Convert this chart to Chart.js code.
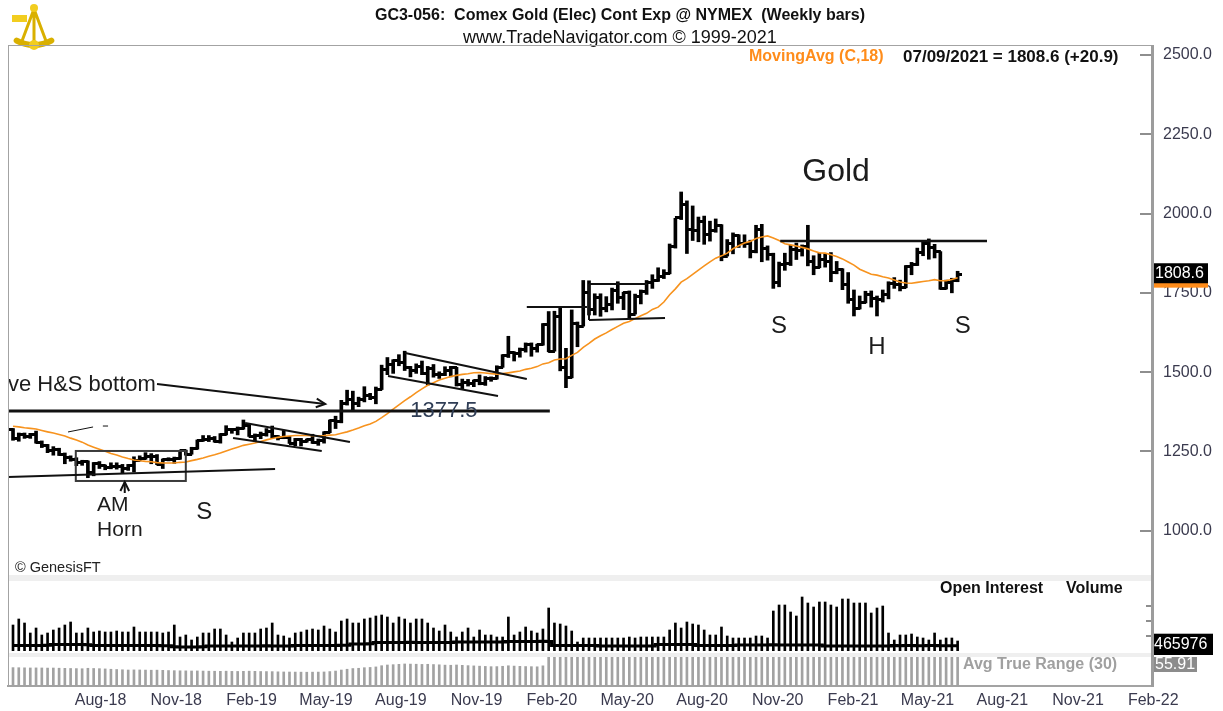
<!DOCTYPE html>
<html lang="en">
<head>
<meta charset="utf-8">
<title>GC3-056 Comex Gold weekly</title>
<script src="https://cdn.jsdelivr.net/npm/chart.js@4.4.1/dist/chart.umd.min.js"></script>
<style>
html,body{margin:0;padding:0;background:#fff;}
#wrap{position:relative;width:1223px;height:711px;overflow:hidden;background:#fff;}
#wrap canvas{position:absolute;left:0;}
.ln{position:absolute;background:#a3a3a3;}
.band{position:absolute;background:#efefef;}
</style>
</head>
<body>
<div id="wrap">
<canvas id="cMain" width="1223" height="600" style="top:0"></canvas>
<canvas id="cVol" width="1223" height="74" style="top:581px"></canvas>
<canvas id="cAtr" width="1223" height="56" style="top:655px"></canvas>
<canvas id="logo" width="52" height="50" style="left:8px;top:3px"></canvas>
<div class="band" style="left:9px;top:575px;width:1142px;height:6px"></div>
<div class="band" style="left:9px;top:653px;width:1142px;height:4px"></div>
<div class="ln" style="left:8px;top:45px;width:1145px;height:1px"></div>
<div class="ln" style="left:8px;top:45px;width:1px;height:642px"></div>
<div class="ln" style="left:1151px;top:45px;width:3px;height:642px;background:#9c9c9c"></div>
</div>
<script>
// ---------------- DATA (weekly bars, first bar = week ending 2018-05-18) ----------------
const firstBarDate = '2018-05-18';
const lastBarDate = '07/09/2021';

const opens = [
1320,1291,1303,1298,1302,1278,1270,1254,1256,1241,
1232,1223,1214,1219,1184,1213,1206,1199,1201,1201,
1196,1207,1222,1229,1235,1233,1210,1223,1223,1226,
1252,1241,1258,1284,1289,1292,1282,1303,1318,1318,
1322,1333,1298,1299,1302,1313,1298,1295,1295,1276,
1288,1281,1287,1277,1284,1311,1346,1344,1400,1413,
1400,1415,1426,1419,1445,1509,1523,1537,1529,1515,
1506,1517,1497,1512,1493,1494,1505,1513,1462,1468,
1463,1473,1465,1481,1481,1515,1552,1562,1560,1571,
1587,1573,1586,1649,1566,1674,1516,1484,1654,1645,
1752,1699,1735,1700,1714,1756,1735,1751,1683,1737,
1753,1781,1790,1801,1810,1897,1986,2028,1949,1947,
1975,1934,1948,1962,1866,1907,1930,1906,1905,1879,
1951,1889,1872,1781,1840,1843,1888,1883,1895,1849,
1830,1856,1850,1814,1824,1777,1729,1700,1720,1745,
1733,1729,1744,1780,1777,1768,1832,1838,1877,1905,
1892,1879,1764,1781,1787.7];

const highs = [
1322,1308,1308,1307,1314,1283,1272,1265,1260,1245,
1236,1230,1222,1220,1215,1218,1207,1214,1214,1209,
1209,1233,1236,1246,1243,1240,1226,1230,1232,1252,
1254,1263,1286,1300,1300,1297,1306,1331,1322,1327,
1349,1335,1305,1311,1322,1330,1300,1316,1297,1291,
1291,1289,1304,1289,1312,1349,1361,1411,1443,1440,
1421,1454,1433,1453,1522,1546,1539,1555,1566,1518,
1526,1535,1518,1524,1501,1517,1518,1515,1478,1477,
1475,1491,1486,1485,1520,1555,1613,1564,1576,1592,
1592,1588,1653,1691,1692,1704,1575,1696,1658,1789,
1788,1747,1747,1738,1765,1785,1752,1756,1746,1759,
1789,1807,1829,1823,1904,1985,2068,2040,2024,1989,
1992,1976,1983,1965,1918,1939,1933,1933,1916,1963,
1966,1898,1875,1847,1875,1900,1907,1901,1963,1867,
1875,1874,1877,1849,1826,1814,1759,1740,1755,1756,
1740,1759,1785,1798,1790,1836,1846,1891,1913,1920,
1903,1880,1790,1796,1818];

const lows = [
1285,1282,1291,1291,1276,1262,1246,1238,1237,1211,
1219,1205,1206,1167,1173,1196,1192,1195,1194,1182,
1190,1185,1220,1225,1211,1208,1196,1220,1212,1225,
1238,1241,1257,1282,1281,1279,1276,1302,1307,1302,
1320,1297,1281,1290,1298,1292,1286,1290,1275,1268,
1267,1279,1275,1269,1276,1309,1322,1340,1396,1381,
1391,1406,1413,1400,1445,1492,1496,1520,1505,1485,
1496,1492,1459,1484,1480,1489,1485,1456,1446,1456,
1454,1460,1458,1471,1478,1515,1546,1535,1547,1563,
1550,1563,1585,1564,1566,1504,1451,1482,1580,1645,
1680,1680,1676,1690,1696,1717,1697,1671,1683,1715,
1745,1764,1786,1795,1810,1891,1981,1874,1915,1911,
1903,1913,1941,1851,1866,1873,1893,1893,1860,1876,
1848,1853,1764,1769,1821,1836,1855,1866,1835,1807,
1829,1831,1785,1810,1760,1717,1677,1699,1718,1705,
1677,1721,1731,1764,1756,1766,1807,1836,1867,1856,
1860,1761,1762,1750,1785];

const closes = [
1291,1303,1298,1302,1278,1270,1254,1256,1241,1232,
1223,1214,1219,1184,1213,1206,1199,1201,1201,1196,
1207,1222,1229,1235,1233,1210,1223,1223,1226,1252,
1241,1258,1284,1289,1292,1282,1303,1318,1318,1322,
1333,1298,1299,1302,1313,1298,1295,1295,1276,1288,
1281,1287,1277,1284,1311,1346,1344,1400,1413,1400,
1415,1426,1419,1445,1509,1523,1537,1529,1515,1506,
1517,1497,1512,1493,1494,1505,1513,1462,1468,1463,
1473,1465,1481,1481,1515,1552,1562,1560,1571,1587,
1573,1586,1649,1566,1674,1516,1484,1654,1645,1752,
1699,1735,1700,1714,1756,1735,1751,1683,1737,1753,
1781,1790,1801,1810,1897,1986,2028,1949,1947,1975,
1934,1948,1962,1866,1907,1930,1906,1905,1879,1951,
1889,1872,1781,1840,1843,1888,1883,1895,1849,1830,
1856,1850,1814,1824,1777,1729,1700,1720,1745,1733,
1729,1744,1780,1777,1768,1832,1838,1877,1905,1892,
1879,1764,1781,1787.7,1808.6];

// MovingAvg (C,18)
const ma18 = [
1329.1,1327.4,1324.4,1322.5,1320.4,1315.8,1311.6,1307.8,1303.2,1298.7,
1291.8,1285.6,1279.1,1270.0,1263.1,1256.6,1250.2,1243.6,1238.6,1232.6,
1227.6,1223.1,1220.4,1218.4,1217.3,1214.7,1213.7,1213.2,1213.4,1215.5,
1216.7,1220.8,1224.8,1229.4,1234.6,1239.1,1244.7,1251.5,1257.7,1263.2,
1269.0,1272.5,1276.2,1281.3,1286.3,1290.4,1294.3,1296.7,1298.6,1300.3,
1300.1,1300.0,1299.2,1299.3,1299.7,1301.3,1302.7,1307.1,1311.5,1317.2,
1323.6,1330.5,1336.4,1344.6,1356.4,1369.1,1383.6,1397.0,1410.0,1422.2,
1435.5,1447.3,1458.5,1466.7,1475.0,1480.8,1486.4,1489.8,1492.8,1494.8,
1497.8,1498.9,1497.4,1495.1,1493.8,1495.1,1497.7,1500.7,1503.7,1508.7,
1512.1,1517.3,1525.9,1529.3,1538.2,1541.2,1542.1,1552.7,1562.3,1578.2,
1590.3,1604.4,1614.7,1623.7,1634.5,1644.2,1654.2,1659.6,1668.7,1677.9,
1685.3,1697.7,1704.8,1721.1,1744.1,1762.5,1783.8,1794.7,1808.5,1821.8,
1834.8,1847.8,1859.3,1866.6,1875.2,1888.9,1898.3,1906.8,1912.2,1921.2,
1926.1,1929.5,1923.1,1914.9,1904.7,1901.3,1897.7,1893.3,1888.6,1882.0,
1876.1,1875.2,1870.1,1864.2,1857.0,1847.2,1837.3,1824.4,1816.4,1808.7,
1805.8,1800.5,1797.0,1790.8,1784.4,1780.9,1780.3,1782.9,1785.7,1788.0,
1791.6,1788.3,1788.5,1791.8,1797.8];

// Volume (thousands of contracts)
const volume = [
1300,1600,1400,900,1150,800,900,1050,1150,1300,
1450,900,900,1150,950,1000,950,950,1000,950,
950,1200,950,950,950,950,900,950,1300,700,
800,550,700,900,900,1100,1100,800,450,650,
900,900,900,1100,1150,1400,800,750,650,900,
950,1050,1100,1050,1250,1100,950,1500,1600,1400,
1400,1600,1650,1750,1800,1700,1400,1700,1600,1400,
1600,1600,1400,1150,1000,1300,950,700,950,1150,
700,1050,800,800,700,700,1700,800,950,1200,
1000,900,1100,2150,1400,1350,1250,1000,450,650,
650,650,650,650,650,650,650,700,650,700,
700,700,700,700,1050,1400,1150,1450,1350,1300,
1050,800,800,1200,750,650,650,650,650,750,
750,650,2000,2300,2300,1950,1750,2700,2400,2200,
2450,2450,2300,2200,2600,2600,2400,2400,2400,1900,
2150,2250,900,550,800,800,850,700,650,550,
900,550,650,650,500];

// Open interest (thousands of contracts)
const openInterest = [
468,470,472,470,469,471,473,
488,490,492,491,489,490,487,
472,470,469,471,470,468,470,472,471,469,470,468,466,465,
445,440,438,440,442,444,
458,460,461,460,459,462,460,458,460,461,463,460,458,459,461,
468,470,471,470,469,472,470,471,473,475,
498,500,502,503,
528,530,532,531,529,530,533,531,530,528,530,532,531,529,
538,540,541,539,540,542,540,541,539,
548,550,552,551,549,550,553,550,
472,470,468,470,471,469,470,472,
460,461,459,460,462,460,458,460,461,460,
488,490,492,491,489,490,488,
472,470,469,471,470,468,470,
478,480,482,481,479,480,483,481,480,478,480,482,481,479,480,
462,460,459,461,460,458,460,462,461,459,460,461,
468,467,469,468,466,467,468,469,467,466,467,
465.976];

// Avg True Range (30)
const atr = [
28.5,28.4,28.2,28.0,28.1,28.0,27.8,27.9,27.6,27.4,27.2,27.0,26.8,27.5,
27.2,26.9,26.5,26.0,25.6,25.2,24.8,25.0,24.9,24.7,24.5,24.6,24.3,24.0,23.8,
23.6,23.5,23.3,23.4,23.2,23.0,22.9,22.8,23.0,22.7,22.6,22.8,
23.0,22.8,22.5,22.4,22.3,22.0,21.8,21.7,21.6,21.5,21.4,21.5,21.6,21.8,22.4,
23.2,24.8,26.0,27.1,27.5,28.4,28.8,29.6,31.5,32.6,33.1,
33.6,34.2,34.0,33.8,33.5,33.7,33.3,32.9,32.4,32.2,32.6,32.1,31.6,31.2,30.8,
30.4,30.0,30.1,30.6,31.4,30.9,30.5,30.2,30.0,29.8,31.3,
46,50,56,61,66,67,70,
71,72,72,72,71,71,70,70,69,68,
67,66,66,65,67,70,74,77,79,80,
80,79,79,79,78,77,76,75,74,75,
75,74,75,73,72,71,70,69,70,68,
67,66,65,65,64,64,64,63,62,61,
60,59,58,57,56,56,56,56,56,56,
56,57,57,56.5,55.91];

// X-axis month labels (placed at the first day of the month)
const tickDates = ['2018-08-01','2018-11-01','2019-02-01','2019-05-01','2019-08-01','2019-11-01',
  '2020-02-01','2020-05-01','2020-08-01','2020-11-01','2021-02-01','2021-05-01','2021-08-01','2021-11-01','2022-02-01'];
const tickLabels = ['Aug-18','Nov-18','Feb-19','May-19','Aug-19','Nov-19','Feb-20','May-20',
  'Aug-20','Nov-20','Feb-21','May-21','Aug-21','Nov-21','Feb-22'];
const volTicks = [750, 1500, 2250];

// Chart drawings, in (week index, price) coordinates
const annoLines = [
  {from:[-1, 1377.5], to:[93.2, 1377.5], w:3},
  {from:[25.0, 1462.5], to:[54.2, 1399.5], w:2, arrow:true},
  {from:[-1, 1169], to:[45.5, 1194.5], w:2},
  {from:[40.3, 1339.5], to:[58.5, 1279.6], w:2},
  {from:[38.2, 1292.2], to:[53.6, 1251.3], w:2},
  {from:[68.1, 1560.3], to:[89.2, 1478.3], w:2},
  {from:[65.1, 1487.8], to:[84.2, 1424.7], w:2},
  {from:[89.2, 1705.3], to:[99.65, 1705.3], w:2},
  {from:[100, 1777.9], to:[110.1, 1777.9], w:2},
  {from:[100, 1777.9], to:[100, 1664.3], w:2},
  {from:[100, 1664.3], to:[113.2, 1670.6], w:2},
  {from:[133.2, 1913.5], to:[169.1, 1913.5], w:2.5},
  {from:[9.55, 1311.2], to:[13.9, 1327], w:1},
  {from:[15.6, 1330], to:[16.5, 1330], w:1},
  {from:[19.4, 1118.8], to:[19.4, 1153.5], w:2, arrow:true}
];
const hornBox = {from:[10.9, 1251.3], to:[30.0, 1156.7]};
const annoTexts = [
  {t:'Massive H&S bottom', at:[24.8, 1459.4], align:'right', size:22},
  {t:'1377.5', at:[74.8, 1377.5], align:'center', size:22, color:'#2f3d55'},
  {t:'AM', at:[14.6, 1081], align:'left', size:21},
  {t:'Horn', at:[14.6, 1002], align:'left', size:21},
  {t:'S', at:[33.2, 1059], align:'center', size:24},
  {t:'Gold', at:[142.9, 2131], align:'center', size:32},
  {t:'S', at:[133.0, 1645.5], align:'center', size:24},
  {t:'H', at:[150.0, 1579], align:'center', size:24},
  {t:'S', at:[164.9, 1645.5], align:'center', size:24}
];

// ---------------- RENDERING ----------------
const FF = "'Liberation Sans', Arial, Helvetica, sans-serif";
Chart.defaults.font.family = FF;
const X_MIN = -0.87, X_MAX = 197.92;
const WEEK = 7 * 864e5;
const weekPos = d => (Date.parse(d + 'T00:00:00Z') - Date.parse(firstBarDate + 'T00:00:00Z')) / WEEK;
const tickPositions = tickDates.map(weekPos);
const idx = closes.map((_, i) => i);
const last = closes.length - 1;

function tickImg(side) {
  const c = document.createElement('canvas');
  c.width = 9; c.height = 3;
  const g = c.getContext('2d');
  g.fillStyle = '#000';
  g.fillRect(side === 'l' ? 0 : 4, 0, 5, 3);
  return c;
}

const baseOpts = {
  devicePixelRatio: 1, responsive: false, animation: false, events: [],
  plugins: {legend: {display: false}, tooltip: {enabled: false}}
};
const xHidden = {type: 'linear', min: X_MIN, max: X_MAX, display: false, offset: false, grid: {offset: false}};

const mainDecor = {
  id: 'mainDecor',
  afterDatasetsDraw(chart) {
    const {ctx, chartArea: a, scales: {x, y}} = chart;
    const px = p => [x.getPixelForValue(p[0]), y.getPixelForValue(p[1])];
    ctx.save();
    ctx.beginPath(); ctx.rect(a.left, a.top, a.right - a.left, a.bottom - a.top); ctx.clip();
    const b0 = px(hornBox.from), b1 = px(hornBox.to);
    ctx.lineWidth = 2; ctx.strokeStyle = '#3a3a3a';
    ctx.strokeRect(b0[0], b0[1], b1[0] - b0[0], b1[1] - b0[1]);
    ctx.strokeStyle = '#111';
    annoLines.forEach(l => {
      const p0 = px(l.from), p1 = px(l.to);
      ctx.lineWidth = l.w;
      ctx.beginPath(); ctx.moveTo(p0[0], p0[1]); ctx.lineTo(p1[0], p1[1]); ctx.stroke();
      if (l.arrow) {
        const ang = Math.atan2(p1[1] - p0[1], p1[0] - p0[0]), L = 10;
        ctx.beginPath();
        ctx.moveTo(p1[0] - L * Math.cos(ang - 0.45), p1[1] - L * Math.sin(ang - 0.45));
        ctx.lineTo(p1[0], p1[1]);
        ctx.lineTo(p1[0] - L * Math.cos(ang + 0.45), p1[1] - L * Math.sin(ang + 0.45));
        ctx.stroke();
      }
    });
    ctx.textBaseline = 'middle';
    annoTexts.forEach(t => {
      const p = px(t.at);
      ctx.font = t.size + 'px ' + FF;
      ctx.fillStyle = t.color || '#1c1c1c';
      ctx.textAlign = t.align;
      ctx.fillText(t.t, p[0], p[1]);
    });
    ctx.restore();
    // axis tick marks (inside, left of the axis line)
    ctx.save();
    ctx.strokeStyle = '#8e8e8e'; ctx.lineWidth = 2;
    y.ticks.forEach(t => {
      if (t.value < y.min || t.value > y.max) return;
      const py = Math.round(y.getPixelForValue(t.value));
      const len = t.value % 250 === 0 ? 12 : 4;
      ctx.beginPath(); ctx.moveTo(a.right - 1 - len, py); ctx.lineTo(a.right - 1, py); ctx.stroke();
    });
    ctx.restore();
  },
  afterDraw(chart) {
    const {ctx, chartArea: a, scales: {y}} = chart;
    ctx.save();
    ctx.textBaseline = 'middle';
    ctx.fillStyle = '#111'; ctx.textAlign = 'center';
    ctx.font = 'bold 16px ' + FF;
    ctx.fillText('GC3-056:  Comex Gold (Elec) Cont Exp @ NYMEX  (Weekly bars)', 620, 16);
    ctx.font = '18px ' + FF;
    ctx.fillText('www.TradeNavigator.com \u00A9 1999-2021', 620, 38);
    ctx.textAlign = 'left';
    ctx.font = 'bold 16px ' + FF; ctx.fillStyle = '#ff8c1a';
    ctx.fillText('MovingAvg (C,18)', 749, 57);
    ctx.font = 'bold 17px ' + FF; ctx.fillStyle = '#111';
    const chg = closes[last] - closes[last - 1];
    ctx.fillText(lastBarDate + ' = ' + closes[last].toFixed(1) + ' (' + (chg >= 0 ? '+' : '') + chg.toFixed(1) + ')', 903, 57);
    ctx.font = '14.5px ' + FF; ctx.fillStyle = '#222';
    ctx.fillText('\u00A9 GenesisFT', 15, 568);
    // last value boxes
    const yMa = y.getPixelForValue(ma18[last]);
    const yC = y.getPixelForValue(closes[last]);
    ctx.fillStyle = '#ff8c1a'; ctx.fillRect(a.right, yMa - 10, 55, 20);
    ctx.fillStyle = '#000'; ctx.fillRect(a.right, yC - 11, 55, 20);
    ctx.fillStyle = '#fff'; ctx.font = '16px ' + FF;
    ctx.fillText(closes[last].toFixed(1), a.right + 2, yC - 1);
    ctx.restore();
  }
};

new Chart(document.getElementById('cMain'), {
  type: 'line',
  data: {datasets: [
    {type: 'line', data: idx.map(i => ({x: i, y: ma18[i]})), borderColor: '#f7931e', borderWidth: 1.6,
     pointRadius: 0, tension: 0, order: 0},
    {type: 'scatter', data: idx.map(i => ({x: i, y: opens[i]})), pointStyle: tickImg('l'), pointRadius: 3, order: 1},
    {type: 'scatter', data: idx.map(i => ({x: i, y: closes[i]})), pointStyle: tickImg('r'), pointRadius: 3, order: 1},
    {type: 'bar', data: idx.map(i => ({x: i, y: [lows[i], highs[i]]})), backgroundColor: '#000',
     barThickness: 3, borderWidth: 0, order: 2}
  ]},
  options: Object.assign({}, baseOpts, {
    layout: {padding: {left: 8, top: 45, right: 0, bottom: 25}},
    scales: {
      x: xHidden,
      y: {type: 'linear', position: 'right', min: 860.2, max: 2531.5,
          grid: {display: false, drawTicks: false}, border: {display: false},
          ticks: {stepSize: 50, includeBounds: false, autoSkip: false, padding: 10, color: '#3a3a4e',
                  font: {size: 16}, callback: v => (v % 250 === 0 ? v.toFixed(1) : null)},
          afterFit: s => { s.width = 70; }}
    }
  }),
  plugins: [mainDecor]
});

const volDecor = {
  id: 'volDecor',
  afterDraw(chart) {
    const {ctx, chartArea: a, scales} = chart;
    const yv = scales.yv, yo = scales.yo;
    ctx.save();
    ctx.strokeStyle = '#8e8e8e'; ctx.lineWidth = 2;
    volTicks.forEach(v => {
      const py = Math.round(yv.getPixelForValue(v));
      ctx.beginPath(); ctx.moveTo(a.right - 7, py); ctx.lineTo(a.right - 1, py); ctx.stroke();
    });
    ctx.textBaseline = 'middle'; ctx.textAlign = 'left';
    ctx.fillStyle = '#111'; ctx.font = 'bold 16px ' + FF;
    ctx.fillText('Open Interest', 940, 8);
    ctx.fillText('Volume', 1066, 8);
    const py = yo.getPixelForValue(openInterest[last]);
    ctx.fillStyle = '#000'; ctx.fillRect(a.right, py - 12, 60, 22);
    ctx.fillStyle = '#fff'; ctx.font = '16px ' + FF;
    ctx.fillText(String(Math.round(openInterest[last] * 1000)), a.right + 1, py - 1);
    ctx.restore();
  }
};

new Chart(document.getElementById('cVol'), {
  type: 'line',
  data: {datasets: [
    {type: 'line', data: idx.map(i => ({x: i, y: openInterest[i]})), yAxisID: 'yo', borderColor: '#000',
     borderWidth: 3, pointRadius: 0, stepped: 'middle', order: 0},
    {type: 'bar', data: idx.map(i => ({x: i, y: volume[i]})), yAxisID: 'yv', backgroundColor: '#000',
     barThickness: 2, borderWidth: 0, order: 1}
  ]},
  options: Object.assign({}, baseOpts, {
    layout: {padding: {left: 8, top: 0, right: 70, bottom: 4}},
    scales: {
      x: xHidden,
      yv: {type: 'linear', position: 'right', min: 0, max: 3500, display: false},
      yo: {type: 'linear', position: 'right', min: 360, max: 1760, display: false}
    }
  }),
  plugins: [volDecor]
});

const atrDecor = {
  id: 'atrDecor',
  afterDraw(chart) {
    const {ctx, chartArea: a} = chart;
    ctx.save();
    ctx.textBaseline = 'middle'; ctx.textAlign = 'left';
    ctx.font = 'bold 16px ' + FF; ctx.fillStyle = '#a0a0a0';
    ctx.fillText('Avg True Range (30)', 963, 10);
    ctx.fillStyle = '#8c8c8c'; ctx.fillRect(a.right, a.top, 44, 15);
    ctx.fillStyle = '#fff'; ctx.font = '16px ' + FF;
    ctx.fillText(atr[last].toFixed(2), a.right + 2, a.top + 8);
    ctx.restore();
  }
};

new Chart(document.getElementById('cAtr'), {
  type: 'line',
  data: {datasets: [
    {type: 'bar', data: idx.map(i => ({x: i, y: atr[i]})), backgroundColor: '#a2a2a2', barThickness: 2, borderWidth: 0}
  ]},
  options: Object.assign({}, baseOpts, {
    layout: {padding: {left: 8, top: 2, right: 70, bottom: 0}},
    scales: {
      x: {type: 'linear', min: X_MIN, max: X_MAX, offset: false, position: 'bottom',
          grid: {display: false, drawTicks: false, offset: false},
          border: {display: true, color: '#a3a3a3', width: 2},
          afterBuildTicks: ax => { ax.ticks = tickPositions.map(v => ({value: v})); },
          ticks: {autoSkip: false, maxRotation: 0, minRotation: 0, align: 'start', padding: 5,
                  color: '#3a3a4e', font: {size: 16}, callback: (v, i) => tickLabels[i]},
          afterFit: ax => { ax.height = 25; }},
      y: {type: 'linear', min: 0, max: 45, display: false}
    }
  }),
  plugins: [atrDecor]
});

// logo (simple gold sextant)
(function () {
  const g = document.getElementById('logo').getContext('2d');
  g.strokeStyle = '#d9b000'; g.fillStyle = '#f2cd1f'; g.lineCap = 'round';
  g.lineWidth = 6; g.beginPath(); g.arc(26, 6, 36, Math.PI * 0.34, Math.PI * 0.66); g.stroke();
  g.lineWidth = 3; g.beginPath();
  g.moveTo(26, 6); g.lineTo(14, 38); g.moveTo(26, 6); g.lineTo(38, 38);
  g.moveTo(26, 4); g.lineTo(26, 44); g.stroke();
  g.fillRect(4, 12, 15, 7);
  g.beginPath(); g.arc(26, 5, 4, 0, Math.PI * 2); g.fill();
  g.beginPath(); g.arc(26, 42, 5, 0, Math.PI * 2); g.fill();
})();
</script>
</body>
</html>
